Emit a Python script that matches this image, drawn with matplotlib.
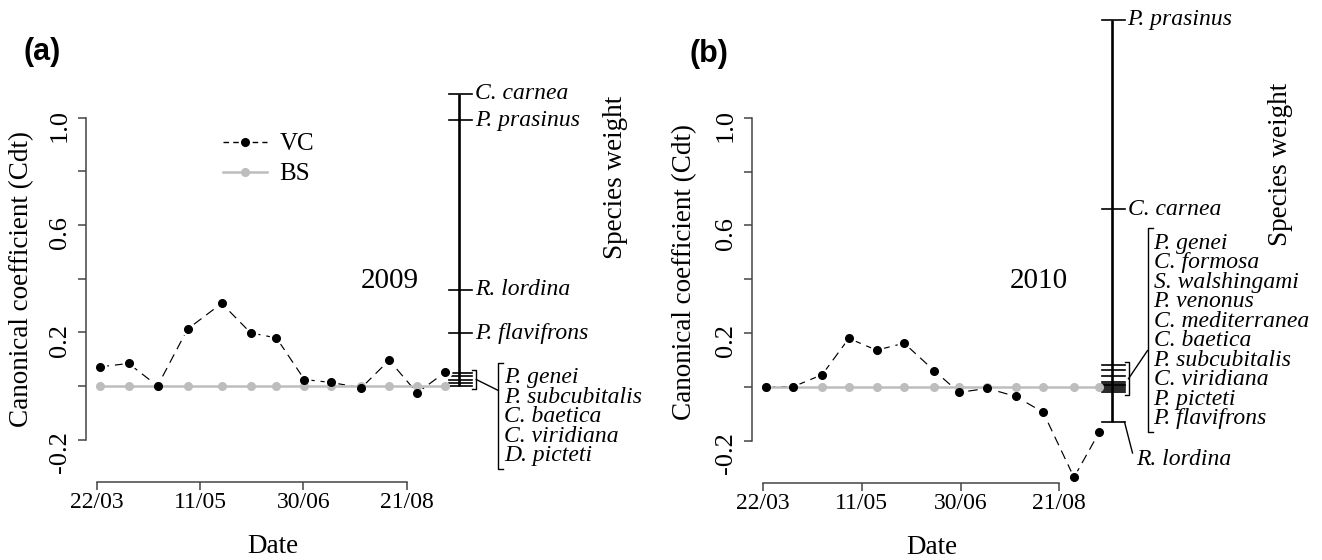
import matplotlib.pyplot as plt
import matplotlib.transforms as mtransforms
from matplotlib.lines import Line2D

plt.rcParams['font.family'] = ['Liberation Serif', 'DejaVu Serif']

# sampling dates as days after 22/03
days_2009 = [1.5, 15.5, 29.5, 44, 60.5, 74.5, 87, 100.5, 113.5, 128, 141.5, 155, 168.5]
vc_2009 = [0.071, 0.084, 0.0, 0.212, 0.308, 0.198, 0.179, 0.024, 0.013, -0.007, 0.096, -0.026, 0.051]
bs_2009 = [0.0] * 13

days_2010 = [1.3, 15.2, 29.9, 43.4, 57.4, 71.4, 86.6, 99.2, 113.6, 127.9, 141.8, 157.4, 170.2]
vc_2010 = [0.0, 0.0, 0.045, 0.18, 0.136, 0.162, 0.06, -0.021, -0.006, -0.036, -0.095, -0.337, -0.169]
bs_2010 = [0.0] * 13

date_ticks = [0, 50, 100, 150]
date_labels = ['22/03', '11/05', '30/06', '21/08']
y_ticks = [-0.2, 0.0, 0.2, 0.4, 0.6, 0.8, 1.0]
y_labels = ['-0.2', '', '0.2', '', '0.6', '', '1.0']

# species weights: labelled one by one
sp_2009 = ['C. carnea', 'P. prasinus', 'R. lordina', 'P. flavifrons']
w_2009 = [1.09, 0.99, 0.358, 0.196]
drop_2009 = [0, 0, 0, 0]
# species weights grouped near zero
grp_2009 = ['P. genei', 'P. subcubitalis', 'C. baetica', 'C. viridiana', 'D. picteti']
gw_2009 = [0.048, 0.036, 0.024, 0.012, 0.0]

sp_2010 = ['P. prasinus', 'C. carnea', 'R. lordina']
w_2010 = [1.365, 0.66, -0.131]
drop_2010 = [0, 0, 38]
grp_2010 = ['P. genei', 'C. formosa', 'S. walshingami', 'P. venonus', 'C. mediterranea',
            'C. baetica', 'P. subcubitalis', 'C. viridiana', 'P. picteti', 'P. flavifrons']
gw_2010 = [0.08, 0.062, 0.04, 0.018, 0.012, 0.006, 0.001, -0.004, -0.011, -0.02]

W, H = 1322, 560
YLIM = (-0.358, 1.368)
FS = 17      # tick labels and species names
FT = 19.5    # axis titles

fig = plt.figure(figsize=(W / 100, H / 100), dpi=100)


def panel(rect, xlim, days, vc, bs, sp, w, drop, grp, gw, year, year_pos, lay):
    ax = fig.add_axes(rect)
    ax.set_xlim(*xlim)
    ax.set_ylim(*YLIM)

    # VC line with gaps round the points, then BS, then VC points
    ax.plot(days, vc, color='black', lw=0.85, ls=(0, (8, 5)), zorder=2)
    ax.plot(days, vc, ls='none', marker='o', ms=5.5, mfc='black', mec='white', mew=4.5, zorder=3)
    ax.plot(days, bs, color='#bdbdbd', lw=1.8, marker='o', ms=5.5, zorder=4)
    ax.plot(days, vc, ls='none', marker='o', ms=5.5, color='black', zorder=5)

    for s in ['top', 'right']:
        ax.spines[s].set_visible(False)
    for s in ['left', 'bottom']:
        ax.spines[s].set_color('#444444')
        ax.spines[s].set_linewidth(1.1)
    ax.spines['left'].set_bounds(-0.2, 1.0)
    ax.spines['bottom'].set_bounds(0, 150)
    ax.set_yticks(y_ticks, y_labels)
    ax.set_xticks(date_ticks, date_labels)
    ax.tick_params(axis='both', length=5.5, width=1.1, color='#444444', labelsize=FS)
    ax.tick_params(axis='y', labelrotation=90, pad=5.5, labelsize=19)
    ax.tick_params(axis='x', pad=2)

    ax.set_xlabel('Date', fontsize=FT, va='center')
    ax.xaxis.set_label_coords(0.5, -0.14)
    ax.set_ylabel('Canonical coefficient (Cdt)', fontsize=FT, va='center')
    ax.yaxis.set_label_coords(*lay['ylab'])
    ax.text(*lay['spw'], 'Species weight', transform=ax.transAxes, rotation=90,
            ha='center', va='center', fontsize=FT)
    ax.text(*year_pos, year, fontsize=21, ha='center', va='center')

    # species weight scale on the right edge
    pos = ax.get_position()
    px = 1 / (pos.width * W)
    py = (YLIM[1] - YLIM[0]) / (pos.height * H)
    tr = mtransforms.blended_transform_factory(ax.transAxes, ax.transData)
    kw = dict(transform=tr, clip_on=False, color='black')
    allw = w + gw
    ax.plot([1, 1], [min(allw), max(allw)], lw=1.9, solid_capstyle='butt', **kw)
    for v in allw:
        ax.plot([1 - 10 * px, 1 + 13 * px], [v, v], lw=1.2, **kw)
    for name, v, d in zip(sp, w, drop):
        if d:
            ax.plot([1 + 13 * px, 1 + 21 * px], [v, v - (d - 7) * py], lw=1.0, **kw)
            ax.text(1 + 25 * px, v - d * py, name, transform=tr, style='italic',
                    fontsize=FS, va='center')
        else:
            ax.text(1 + 16 * px, v, name, transform=tr, style='italic',
                    fontsize=FS, va='center')

    # bracket round the grouped ticks and the list of their names
    top, bot = max(gw) + 3 * py, min(gw) - 3 * py
    ax.plot([1 + 13 * px, 1 + 17 * px, 1 + 17 * px, 1 + 13 * px], [top, top, bot, bot], lw=1.0, **kw)
    y0 = lay['list_top']
    ys = [y0 - i * 19.5 * py for i in range(len(grp))]
    btop, bbot = ys[0] + 15 * py, ys[-1] - 13 * py
    bx = 1 + lay['bx'] * px
    ax.plot([bx + 5 * px, bx, bx, bx + 5 * px], [btop, btop, bbot, bbot], lw=1.0, **kw)
    ax.plot([1 + 17 * px, bx], [(top + bot) / 2, btop + lay['conn'] * (bbot - btop)], lw=1.0, **kw)
    for name, y in zip(grp, ys):
        ax.text(bx + 6 * px, y, name, transform=tr, style='italic', fontsize=FS, va='center')
    return ax


ax_a = panel([86.4 / W, (H - 482) / H, (459.3 - 86.4) / W, (482 - 19) / H], (-4.9, 175.4),
             days_2009, vc_2009, bs_2009, sp_2009, w_2009, drop_2009, grp_2009, gw_2009,
             '2009', (141.9, 0.392),
             dict(ylab=(-0.173, 0.438), spw=(1.419, 0.659), list_top=0.03, bx=39, conn=0.26))
ax_b = panel([751.9 / W, (H - 483) / H, (1111.5 - 751.9) / W, (483 - 19) / H], (-5.7, 176.4),
             days_2010, vc_2010, bs_2010, sp_2010, w_2010, drop_2010, grp_2010, gw_2010,
             '2010', (139.6, 0.393),
             dict(ylab=(-0.186, 0.455), spw=(1.4686, 0.687), list_top=0.533, bx=36, conn=0.6))

handles = [Line2D([], [], color='black', lw=1.0, ls=(0, (4, 3)), marker='o', ms=5.5),
           Line2D([], [], color='#bdbdbd', lw=1.8, marker='o', ms=5.5)]
fig.legend(handles, ['VC', 'BS'], loc='upper left', bbox_to_anchor=(223 / W, 1 - 133 / H),
           frameon=False, fontsize=18, handlelength=1.75, handletextpad=0.5,
           labelspacing=0.3, borderpad=0, borderaxespad=0)

fig.text(42 / W, 1 - 52 / H, '(a)', fontsize=22, fontweight='bold', family='Liberation Sans',
         ha='center', va='center')
fig.text(709 / W, 1 - 54 / H, '(b)', fontsize=22, fontweight='bold', family='Liberation Sans',
         ha='center', va='center')

fig.savefig('out.png', dpi=100)
